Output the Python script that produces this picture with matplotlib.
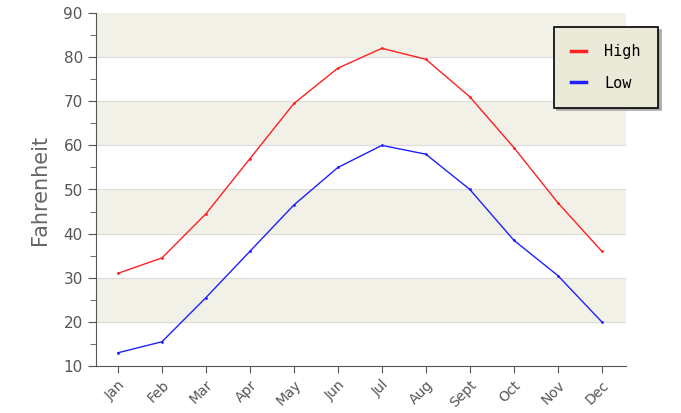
import matplotlib
matplotlib.use("Agg")
import matplotlib.pyplot as plt
from matplotlib.ticker import MultipleLocator

months = ["Jan","Feb","Mar","Apr","May","Jun","Jul","Aug","Sept","Oct","Nov","Dec"]
high = [31, 34.5, 44.5, 57, 69.5, 77.5, 82, 79.5, 71, 59.5, 47, 36]
low = [13, 15.5, 25.5, 36, 46.5, 55, 60, 58, 50, 38.5, 30.5, 20]

fig = plt.figure(figsize=(6.81, 4.13), dpi=100)
ax = fig.add_axes([96/681, 1-366/413, 530/681, 353/413])
x = list(range(len(months)))
ax.set_xlim(-0.5, 11.55)
ax.set_ylim(10, 90)
for b in range(20, 90, 20):
    ax.axhspan(b, b+10, color="#f2f1e8", zorder=0)
for g in range(20, 90, 10):
    ax.axhline(g, color="#dcdcdc", lw=0.8, zorder=0.5)
ax.plot(x, high, color="#ff2020", lw=1, marker='.', ms=2, label="High")
ax.plot(x, low, color="#2020ff", lw=1, marker='.', ms=2, label="Low")
ax.set_xticks(x)
ax.set_xticklabels(months, rotation=45, ha="right", rotation_mode="anchor", color="#555555", fontsize=10)
ax.yaxis.set_major_locator(MultipleLocator(10))
ax.yaxis.set_minor_locator(MultipleLocator(5))
ax.tick_params(axis="y", colors="#555555", labelsize=11, length=6, direction="out")
ax.tick_params(axis="y", which="minor", length=4, direction="out", colors="#555555")
ax.tick_params(axis="x", colors="#555555", length=5)
for s in ["top", "right"]:
    ax.spines[s].set_visible(False)
ax.spines["left"].set_color("#555555")
ax.spines["bottom"].set_color("#555555")
ax.set_ylabel("Fahrenheit", fontsize=15, color="#666666", labelpad=10)
leg = ax.legend(loc="upper right", bbox_to_anchor=(1.06, 0.96), prop={"family": "DejaVu Sans Mono", "size": 11},
                frameon=True, fancybox=False, shadow={"color": "#aaaaaa", "alpha": 1}, facecolor="#ebe9d8", edgecolor="black",
                handlelength=1, borderpad=1.1, labelspacing=1.1, borderaxespad=0, handletextpad=1.2)
leg.get_frame().set_linewidth(1.2)
for l in leg.get_lines():
    l.set_linewidth(2.5)
fig.canvas.draw()
# widen legend box to match reference proportions
frame = leg.get_frame()
frame.set_width(frame.get_width() + 25)
frame.set_x(frame.get_x())
fig.savefig("out.png", dpi=100)
